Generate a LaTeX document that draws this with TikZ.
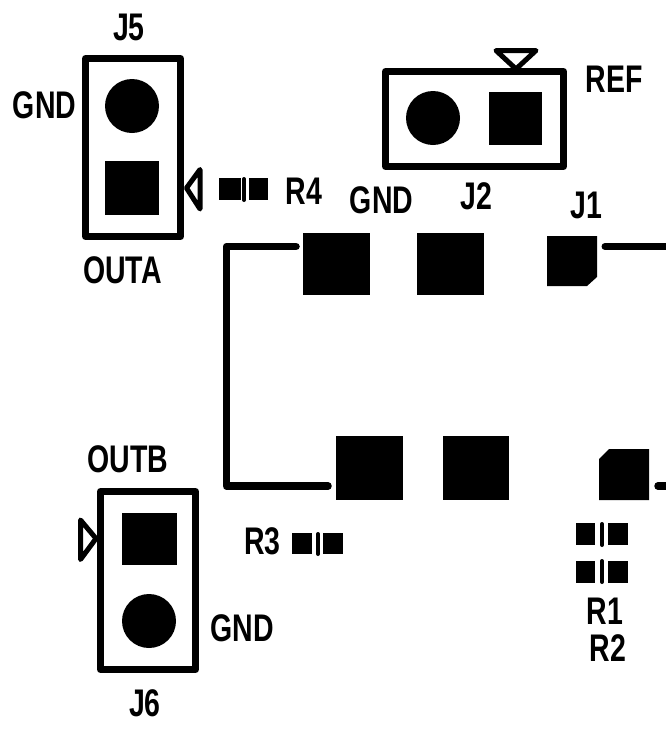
\documentclass[tikz,border=0pt]{standalone}
\usepackage{fontspec}
\setmainfont{Liberation Sans}
\newcommand{\lbltext}[1]{\scalebox{.74}[1]{\bfseries #1}}
\tikzset{
  pad/.style={rectangle,fill=black,inner sep=0pt,outer sep=0pt},
  hole/.style={circle,fill=black,inner sep=0pt,outer sep=0pt,minimum size=54pt},
  frame/.style={rectangle,draw=black,line width=7pt,inner sep=0pt,outer sep=0pt,line join=round},
  mark tri/.style={draw=black,line width=5pt,line join=round},
  trace/.style={draw=black,line width=7.5pt,line cap=round,line join=round},
  bar/.style={draw=black,line width=4pt,line cap=round},
  lbl/.style={inner sep=0pt,outer sep=0pt,font=\fontsize{38.5}{38.5}\selectfont}
}
\begin{document}
\begin{tikzpicture}[x=1pt,y=-1pt]
\useasboundingbox (0,0) rectangle (665,742);
% frames
\node[frame,minimum width=95pt,minimum height=178pt] (j5box) at (133,147.5) {};
\node[frame,minimum width=178pt,minimum height=95pt] (j2box) at (474.5,119) {};
\node[frame,minimum width=95pt,minimum height=178pt] (j6box) at (148,580.5) {};
% connector pins
\node[hole] (j5gnd) at (132,106) {};
\node[pad,minimum width=54pt,minimum height=54pt] (j5sig) at (132,188) {};
\node[hole] (j2gnd) at (433,118) {};
\node[pad,minimum width=53pt,minimum height=53pt] (j2sig) at (515.5,118.5) {};
\node[pad,minimum width=55pt,minimum height=52pt] (j6sig) at (149.5,539) {};
\node[hole] (j6gnd) at (149,621) {};
% pin-1 markers
\draw[mark tri] (186.5,188) -- (200,169.5) -- (200,209) -- cycle;
\draw[mark tri] (496,50.5) -- (536,50.5) -- (516,69) -- cycle;
\draw[mark tri] (80.5,520) -- (80.5,559.5) -- (96,538.5) -- cycle;
% large pads
\node[pad,minimum width=67pt,minimum height=62pt] (p1) at (336.5,264) {};
\node[pad,minimum width=67pt,minimum height=62pt] (p2) at (450.5,264) {};
\node[pad,minimum width=67pt,minimum height=64pt] (p3) at (369.5,468) {};
\node[pad,minimum width=66pt,minimum height=64pt] (p4) at (476,468) {};
% chamfered pads
\fill[black] (547,236) -- (597,236) -- (597,277) -- (587,286) -- (547,286) -- cycle;
\fill[black] (609,449) -- (649,449) -- (649,500) -- (599,500) -- (599,459) -- cycle;
% traces
\coordinate (tr1a) at (296,246.5);
\coordinate (tr1b) at (226.5,246.5);
\coordinate (tr1c) at (226.5,486);
\coordinate (tr1d) at (328,486);
\draw[trace] (tr1a) -- (tr1b) -- (tr1c) -- (tr1d);
\coordinate (tr2a) at (605,246.5);
\coordinate (tr2b) at (670,246.5);
\draw[trace,line width=7pt] (tr2a) -- (tr2b);
\coordinate (tr3a) at (658,486);
\coordinate (tr3b) at (670,486);
\draw[trace,line width=7.5pt] (tr3a) -- (tr3b);
% resistors
\node[pad,minimum width=22pt,minimum height=22pt] (r4a) at (230,189) {};
\node[pad,minimum width=19pt,minimum height=22pt] (r4b) at (258.5,189) {};
\draw[bar] (244,179) -- (244,200);
\node[pad,minimum width=20pt,minimum height=21pt] (r3a) at (302,543.5) {};
\node[pad,minimum width=20pt,minimum height=21pt] (r3b) at (333,543.5) {};
\draw[bar] (318,534) -- (318,554);
\node[pad,minimum width=19pt,minimum height=22pt] (r1a) at (585.5,534) {};
\node[pad,minimum width=20pt,minimum height=22pt] (r1b) at (618,534) {};
\draw[bar] (602,524) -- (602,545);
\node[pad,minimum width=19pt,minimum height=22pt] (r2a) at (585.5,572) {};
\node[pad,minimum width=20pt,minimum height=22pt] (r2b) at (618,572) {};
\draw[bar] (602,561) -- (602,582);
% labels
\node[lbl] (tj5) at (129,27) {\lbltext{J5}};
\node[lbl] (tgnd1) at (44.5,105) {\lbltext{GND}};
\node[lbl] (tr4) at (304,191) {\lbltext{R4}};
\node[lbl] (touta) at (122.5,270) {\lbltext{OUTA}};
\node[lbl] (tref) at (614,79.5) {\lbltext{REF}};
\node[lbl] (tgnd2) at (381.5,200.5) {\lbltext{GND}};
\node[lbl] (tj2) at (476,196.5) {\lbltext{J2}};
\node[lbl] (tj1) at (586.5,205) {\lbltext{J1}};
\node[lbl] (toutb) at (128,459) {\lbltext{OUTB}};
\node[lbl] (tr3) at (262.5,541) {\lbltext{R3}};
\node[lbl] (tgnd3) at (242,628) {\lbltext{GND}};
\node[lbl] (tj6) at (145,703) {\lbltext{J6}};
\node[lbl] (tr1) at (605,611.5) {\lbltext{R1}};
\node[lbl] (tr2) at (608,648.5) {\lbltext{R2}};
\end{tikzpicture}
\end{document}
